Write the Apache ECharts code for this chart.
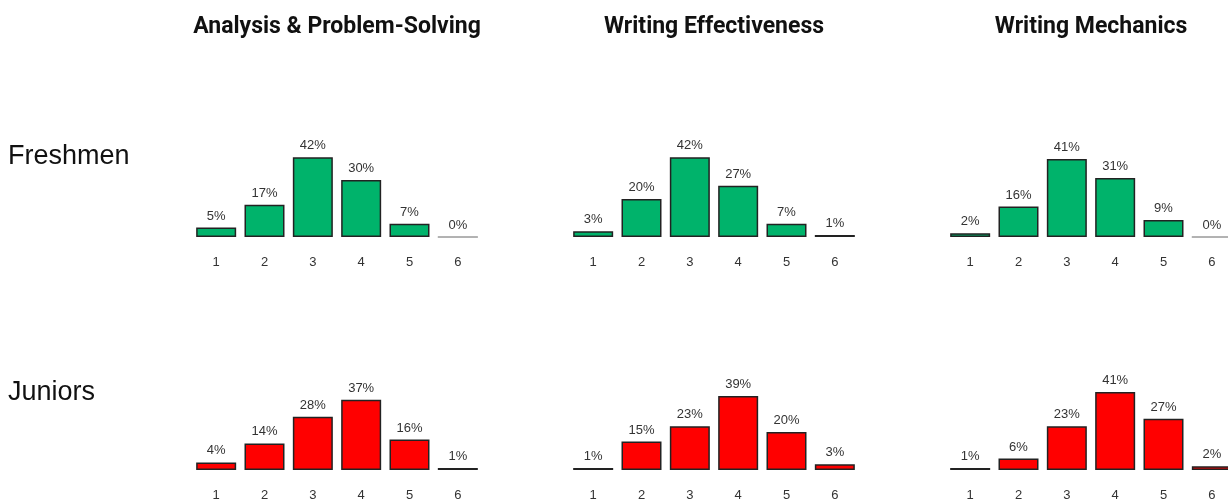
<!DOCTYPE html>
<html lang="en">
<head>
  <meta charset="utf-8">
  <title>Score distributions</title>
  <script src="https://cdn.jsdelivr.net/npm/echarts@6/dist/echarts.min.js"></script>
  <style>
    html, body { margin: 0; padding: 0; background: #fff; }
  </style>
</head>
<body>
<div id="main" style="width: 1228px; height: 502px;"></div>
<script type="text/javascript">
    // score levels on the x axis
    var scores = ['1', '2', '3', '4', '5', '6'];

    var panelTitles = ['Analysis & Problem-Solving', 'Writing Effectiveness', 'Writing Mechanics'];
    var rowNames = ['Freshmen', 'Juniors'];

    // percent of students per score
    var freshmenAnalysis = [5, 17, 42, 30, 7, 0];
    var freshmenEffectiveness = [3, 20, 42, 27, 7, 1];
    var freshmenMechanics = [2, 16, 41, 31, 9, 0];

    var juniorsAnalysis = [4, 14, 28, 37, 16, 1];
    var juniorsEffectiveness = [1, 15, 23, 39, 20, 3];
    var juniorsMechanics = [1, 6, 23, 41, 27, 2];

    var rows = [
        [freshmenAnalysis, freshmenEffectiveness, freshmenMechanics],
        [juniorsAnalysis, juniorsEffectiveness, juniorsMechanics]
    ];
    var rowColors = ['#00b36b', '#ff0000'];

    var chart = echarts.init(document.getElementById('main'));

    var grids = [], xAxes = [], yAxes = [], series = [];
    var titles = [];

    panelTitles.forEach(function (t, c) {
        titles.push({
            text: t,
            left: 332 + c * 377,
            top: 11,
            textAlign: 'center',
            textStyle: {fontFamily: 'Roboto', fontWeight: 'bold', fontSize: 23, color: '#111'}
        });
    });
    rowNames.forEach(function (name, r) {
        titles.push({
            text: name,
            left: 3,
            top: r === 0 ? 138 : 374,
            textStyle: {fontFamily: 'Liberation Sans', fontWeight: 'normal', fontSize: 27, color: '#111'}
        });
    });

    var idx = 0;
    rows.forEach(function (rowData, r) {
        rowData.forEach(function (values, c) {
            grids.push({
                left: 192 + c * 377,
                top: r === 0 ? 142 : 375,
                width: 290,
                height: 95,
                outerBoundsMode: 'none'
            });
            xAxes.push({
                type: 'category',
                gridIndex: idx,
                data: scores,
                axisLine: {show: false},
                axisTick: {show: false},
                axisLabel: {
                    margin: 19,
                    fontFamily: 'Liberation Sans',
                    fontSize: 13,
                    color: '#333'
                }
            });
            yAxes.push({
                type: 'value',
                gridIndex: idx,
                min: 0,
                max: 50,
                show: false,
                splitLine: {show: false}
            });
            series.push({
                type: 'bar',
                xAxisIndex: idx,
                yAxisIndex: idx,
                barWidth: 40,
                data: values.map(function (v) {
                    return v === 0
                        ? {value: v, itemStyle: {borderColor: '#999', borderWidth: 1}}
                        : v;
                }),
                itemStyle: {
                    color: rowColors[r],
                    borderColor: '#222',
                    borderWidth: 1.5
                },
                label: {
                    show: true,
                    position: 'top',
                    distance: 5,
                    formatter: '{c}%',
                    fontFamily: 'Liberation Sans',
                    fontSize: 13,
                    color: '#333'
                },
                animation: false
            });
            idx++;
        });
    });

    chart.setOption({
        animation: false,
        title: titles,
        grid: grids,
        xAxis: xAxes,
        yAxis: yAxes,
        series: series
    });
</script>
</body>
</html>
